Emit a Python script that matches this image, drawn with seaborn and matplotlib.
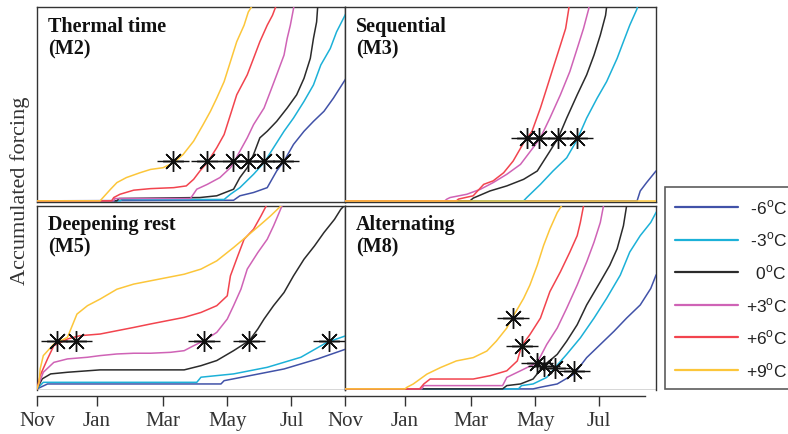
import numpy as np
import pandas as pd
import matplotlib
matplotlib.use('Agg')
import matplotlib.pyplot as plt
import seaborn as sns

# x = days since 1 November, y = accumulated forcing (% of panel height)
scenarios = ['-6', '-3', '0', '+3', '+6', '+9']
colors = ['#4152a8', '#1cb1d8', '#2b2b2b', '#cf63b6', '#f2444e', '#fcc63a']
legend_labels = [' -6$^{\\rm o}$C', ' -3$^{\\rm o}$C', '  0$^{\\rm o}$C',
                 '+3$^{\\rm o}$C', '+6$^{\\rm o}$C', '+9$^{\\rm o}$C']

month_ticks = [0, 57, 120, 181, 242]
month_labels = ['Nov', 'Jan', 'Mar', 'May', 'Jul']

# Thermal time (M2)
m2_m6 = [(0, 0), (187, 0.3), (193, 2.6), (206, 4.3), (219, 6.8), (228, 15.4), (235, 20.5), (244, 29.1),
         (254, 35.9), (263, 41), (273, 46.2), (282, 53), (294, 63.2), (300, 66)]
m2_m3 = [(0, 0), (79, 0), (81, 0.7), (178, 0.7), (184, 3.4), (193, 6.8), (206, 13.7), (216, 19.7), (225, 27.4),
         (235, 35.9), (244, 42.7), (254, 51.3), (263, 59.8), (270, 70.1), (279, 78.6), (285, 87.2), (293, 95.7),
         (300, 104)]
m2_0 = [(0, 0), (76, 0), (78, 1.2), (155, 1.7), (171, 2.6), (187, 6), (193, 12), (200, 17.1), (206, 23.9),
        (212, 32.5), (219, 35.9), (228, 41), (238, 47.9), (247, 54.7), (254, 63.2), (260, 73.5), (263, 83.8),
        (266, 92.3), (267, 100), (268, 110)]
m2_p3 = [(0, 0), (73, 0), (74, 1.2), (146, 1.2), (152, 6), (162, 8.5), (174, 12), (184, 17.1), (187, 19.7),
         (193, 25.6), (200, 32.5), (206, 39.3), (216, 47.9), (222, 56.4), (228, 65), (235, 75.2), (238, 83.8),
         (241, 90.6), (244, 99.1), (247, 110)]
m2_p6 = [(0, 0), (71, 0), (73, 1.7), (79, 3.4), (92, 5.5), (108, 6.3), (130, 6.8), (142, 7.7), (149, 11.1),
         (155, 15.4), (162, 19.7), (171, 27.4), (178, 34.2), (184, 44.4), (190, 54.7), (200, 65), (206, 73.5),
         (212, 82.1), (219, 90.6), (224, 95.7), (227, 100), (230, 110)]
m2_p9 = [(0, 0), (60, 0), (70, 6), (76, 9.4), (85, 12), (98, 14.5), (108, 16.2), (120, 17.1), (130, 19.7),
         (139, 23.9), (149, 30.8), (158, 39.3), (165, 46.2), (171, 53), (178, 61.5), (184, 71.8), (190, 82.1),
         (197, 90.6), (201, 97.4), (204, 100), (208, 110)]
m2_star_x = [129, 162, 186, 201, 216, 234]
m2_star_y = [20.5, 20.5, 20.5, 20.5, 20.5, 20.5]

# Sequential (M3)
m3_m6 = [(0, 0), (278, 0), (281, 5.1), (287, 9.4), (296, 15.4), (300, 17)]
m3_m3 = [(0, 0), (170, 0), (173, 1.7), (186, 8.5), (198, 15.4), (211, 22.2), (221, 31.6), (230, 42.7),
         (240, 53), (249, 61.5), (259, 73.5), (265, 82.1), (271, 90.6), (278, 99.1), (280, 110)]
m3_0 = [(0, 0), (119, 0), (122, 1.4), (138, 5.1), (154, 7.7), (170, 11.1), (183, 15.4), (195, 25.6),
        (203, 32.5), (211, 42.7), (221, 54.7), (230, 65), (237, 75.2), (243, 85.5), (248, 95.7), (249, 100),
        (251, 110)]
m3_p3 = [(0, 0), (95, 0), (97, 0.9), (100, 1.7), (116, 3.4), (129, 6), (141, 9.4), (154, 13.7), (167, 18.8),
         (179, 27.4), (186, 32.5), (195, 42.7), (205, 54.7), (214, 66.7), (221, 78.6), (227, 88.9), (232, 99.1),
         (233, 110)]
m3_p6 = [(0, 0), (106, 0), (108, 0.9), (122, 2.6), (132, 8.5), (141, 10.3), (151, 14.5), (160, 20.5),
         (170, 29.9), (178, 35.9), (186, 47.9), (192, 58.1), (198, 68.4), (205, 80.3), (210, 88.9), (213, 99.1),
         (214, 110)]
m3_p9 = [(0, 0), (300, 0)]
m3_star_x = [173, 185, 203, 221]
m3_star_y = [32.5, 32.5, 32.5, 32.5]

# Deepening rest (M5)
m5_m6 = [(0, 0), (10, 2.7), (175, 2.7), (178, 4.5), (203, 7.3), (235, 10.9), (267, 16.4), (294, 21.8),
         (300, 23)]
m5_m3 = [(0, 0), (6, 3.6), (152, 3.6), (156, 6.4), (187, 8.2), (219, 11.8), (251, 17.3), (276, 25.5),
         (294, 29.1), (300, 30)]
m5_0 = [(0, 0), (5, 5.5), (13, 8.2), (29, 9.1), (60, 10.4), (140, 10.4), (156, 12.7), (171, 15.5), (187, 20.9),
        (202, 26.4), (210, 32.7), (216, 38.2), (225, 45.5), (235, 52.7), (244, 61.8), (254, 70.9), (264, 78.2),
        (273, 85.5), (283, 92.7), (289, 98.2), (292, 100), (295, 105)]
m5_p3 = [(0, 0), (6, 9.1), (16, 14.5), (29, 16.4), (48, 17.3), (60, 18.2), (76, 19.1), (92, 19.5), (108, 19.5),
         (127, 20), (140, 20.9), (149, 23.6), (159, 26.4), (171, 30.9), (181, 38.2), (187, 45.5), (194, 54.5),
         (200, 65.5), (210, 74.5), (219, 81.8), (225, 89.1), (229, 94.5), (233, 100), (235, 110)]
m5_p6 = [(0, 0), (3, 7.3), (10, 16.4), (16, 23.6), (29, 27.3), (41, 29.1), (60, 30), (76, 31.8), (92, 33.6),
         (108, 35.5), (124, 37.3), (140, 39.1), (156, 41.8), (171, 45.5), (181, 50.9), (184, 61.8), (191, 72.7),
         (197, 81.8), (206, 87.3), (213, 94.5), (218, 100), (219, 110)]
m5_p9 = [(0, 0), (2, 3.6), (3, 10.9), (6, 18.2), (16, 24.5), (29, 28.2), (38, 40.9), (48, 45.5), (60, 49.1),
         (76, 54.5), (92, 57.3), (108, 59.1), (124, 60.9), (140, 62.7), (156, 65.5), (171, 70), (187, 77.3),
         (200, 83.6), (213, 90), (222, 94.5), (232, 100), (234, 110)]
m5_star_x = [19, 37.5, 159, 202, 278]
m5_star_y = [26.4, 26.4, 26.4, 26.4, 26.4]

# Alternating (M8)
m8_m6 = [(0, 0), (179, 0), (186, 0.9), (202, 2.7), (218, 8.1), (230, 17.1), (243, 24.3), (256, 31.5),
         (268, 38.7), (281, 45.9), (291, 54.9), (296, 62.2), (300, 65)]
m8_m3 = [(0, 0), (165, 0), (168, 1.8), (179, 2.7), (192, 6.3), (200, 11.7), (211, 18.9), (224, 27.9),
         (237, 38.7), (249, 49.5), (262, 62.2), (271, 74.8), (281, 83.8), (291, 91), (296, 96.4), (300, 100)]
m8_0 = [(0, 0), (150, 0), (154, 1.8), (167, 2.7), (179, 5.4), (189, 12.6), (202, 18.9), (211, 26.1), (221, 35.1),
        (230, 45.9), (243, 58.6), (252, 67.6), (259, 76.6), (265, 89.2), (268, 100), (270, 110)]
m8_p3 = [(0, 0), (73, 0), (75, 1.8), (150, 1.8), (154, 6.3), (167, 9.9), (183, 14.4), (192, 24.3), (202, 33.3),
         (211, 44.1), (221, 56.8), (230, 69.4), (237, 80.2), (243, 91), (246, 100), (248, 110)]
m8_p6 = [(0, 0), (71, 0), (75, 2.7), (81, 5.4), (122, 5.4), (138, 7.2), (154, 9.9), (164, 15.3), (168, 23.4),
         (176, 29.7), (186, 38.7), (195, 53.2), (205, 64), (214, 74.8), (221, 83.8), (224, 91), (227, 100),
         (229, 110)]
m8_p9 = [(0, 0), (57, 0), (59, 0.9), (65, 2.7), (78, 8.1), (91, 11.7), (106, 15.3), (122, 17.1), (135, 20.7),
         (144, 26.1), (154, 33.3), (160, 39.6), (170, 49.5), (176, 56.8), (183, 67.6), (189, 78.4), (195, 87.4),
         (202, 96.4), (206, 100), (208, 110)]
m8_star_x = [160, 168, 183, 189, 200, 218]
m8_star_y = [38.7, 23.4, 14.4, 12.6, 11.7, 9.9]

panels = [
    ('Thermal time\n(M2)', [m2_m6, m2_m3, m2_0, m2_p3, m2_p6, m2_p9], m2_star_x, m2_star_y),
    ('Sequential\n(M3)', [m3_m6, m3_m3, m3_0, m3_p3, m3_p6, m3_p9], m3_star_x, m3_star_y),
    ('Deepening rest\n(M5)', [m5_m6, m5_m3, m5_0, m5_p3, m5_p6, m5_p9], m5_star_x, m5_star_y),
    ('Alternating\n(M8)', [m8_m6, m8_m3, m8_0, m8_p3, m8_p6, m8_p9], m8_star_x, m8_star_y),
]


def curves_to_frame(curves):
    rows = []
    for name, pts in zip(scenarios, curves):
        for day, val in pts:
            rows.append({'day': day, 'forcing': val, 'scenario': name})
    return pd.DataFrame(rows)


sns.set_style('white')
plt.rcParams['font.family'] = ['Liberation Serif', 'DejaVu Serif']
plt.rcParams['mathtext.fontset'] = 'custom'
plt.rcParams['mathtext.rm'] = 'Liberation Sans'

W, H = 788, 435
fig = plt.figure(figsize=(W / 100, H / 100), dpi=100)

# panel boxes in pixels: left, top, width, height
boxes = [(37, 8, 308, 195), (345, 8, 311, 195), (37, 207, 308, 184), (345, 207, 311, 184)]
xlims = [(0, 293), (0, 296), (0, 293), (0, 296)]
edge = '#333333'

for i, ((title, curves, sx, sy), (l, t, w, h)) in enumerate(zip(panels, boxes)):
    ax = fig.add_axes([l / W, 1 - (t + h) / H, w / W, h / H])
    df = curves_to_frame(curves)
    sns.lineplot(data=df, x='day', y='forcing', hue='scenario', hue_order=scenarios,
                 palette=colors, estimator=None, sort=False, legend=False,
                 linewidth=1.1, ax=ax, zorder=3)
    ax.plot(sx, sy, ls='none', marker=(8, 2, 0), ms=15, mec='#111111', mew=1.0, zorder=4)
    ax.plot(sx, sy, ls='none', marker='_', ms=23, mec='#111111', mew=1.0, zorder=4)
    ax.plot(sx, sy, ls='none', marker='o', ms=2.5, mfc='#111111', mec='#111111', zorder=4)
    ax.set_xlim(*xlims[i])
    ax.set_ylim(-0.6, 100)
    ax.set_xlabel('')
    ax.set_ylabel('')
    ax.set_yticks([])
    ax.text(0.035, 0.955, title, transform=ax.transAxes, ha='left', va='top',
            fontsize=14.5, fontweight='bold', color='#111111', linespacing=1.15)
    for s in ax.spines.values():
        s.set_color(edge)
        s.set_linewidth(1.0)
    if i < 2:
        ax.set_xticks([])
    else:
        ax.axhline(-0.6, color=edge, lw=1.0, zorder=2)
        ax.spines['bottom'].set_position(('outward', 4))
        ax.spines['bottom'].set_bounds(0, xlims[i][1] if i == 2 else 286)
        ax.set_xticks(month_ticks)
        ax.set_xticklabels(month_labels, fontsize=15, color='#333333')
        ax.tick_params(axis='x', direction='out', length=7, width=1.0, color=edge, pad=4, bottom=True)

fig.text(20 / W, 1 - 191 / H, 'Accumulated forcing', rotation=90, ha='center', va='center',
         fontsize=16, color='#333333')

handles = [plt.Line2D([], [], color=c, lw=1.6) for c in colors]
leg = fig.legend(handles, legend_labels, loc='upper left', bbox_to_anchor=(665 / W, 1 - 188 / H),
                 bbox_transform=fig.transFigure, frameon=True, fancybox=False, edgecolor=edge,
                 borderaxespad=0, borderpad=0.6, handlelength=3.6, handletextpad=0.45,
                 labelspacing=0.8, prop={'family': 'Liberation Sans', 'size': 12.5})
leg.get_frame().set_linewidth(1.2)
for txt in leg.get_texts():
    txt.set_color('#222222')

fig.savefig('out.png', dpi=100)
